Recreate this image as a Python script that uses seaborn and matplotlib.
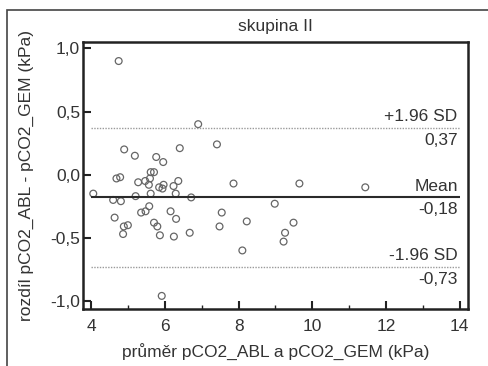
import numpy as np
import pandas as pd
import matplotlib
matplotlib.use('Agg')
import matplotlib.pyplot as plt
from matplotlib.patches import Rectangle
from matplotlib.ticker import MultipleLocator
import seaborn as sns

# Bland-Altman data (kPa)
prumer = [4.74, 6.90, 7.41, 4.89, 6.40, 5.18, 5.76, 5.95, 5.61, 5.70,
          4.68, 4.78, 5.27, 5.46, 5.59, 5.56, 5.84, 5.96, 5.93, 6.23,
          6.36, 7.86, 9.65, 11.44, 4.05, 5.61, 6.29, 5.20, 6.71, 4.59,
          4.80, 5.57, 8.98, 6.15, 5.47, 5.35, 7.54, 4.63, 6.30, 8.22,
          9.49, 5.70, 5.79, 4.99, 4.88, 7.48, 6.67, 9.26, 4.86, 5.86,
          6.24, 9.22, 8.10, 5.91]
rozdil = [0.90, 0.40, 0.24, 0.20, 0.21, 0.15, 0.14, 0.10, 0.02, 0.02,
          -0.03, -0.02, -0.06, -0.05, -0.03, -0.08, -0.10, -0.08, -0.11, -0.09,
          -0.05, -0.07, -0.07, -0.10, -0.15, -0.15, -0.15, -0.17, -0.18, -0.20,
          -0.21, -0.25, -0.23, -0.29, -0.29, -0.30, -0.30, -0.34, -0.35, -0.37,
          -0.38, -0.38, -0.41, -0.40, -0.41, -0.41, -0.46, -0.46, -0.47, -0.48,
          -0.49, -0.53, -0.60, -0.96]

mean_diff = -0.18
upper_loa = 0.37
lower_loa = -0.73
line_labels = ['+1.96 SD', 'Mean', '-1.96 SD']
line_values = ['0,37', '-0,18', '-0,73']

x_ticks = [4, 6, 8, 10, 12, 14]
y_ticks = [-1.0, -0.5, 0.0, 0.5, 1.0]
y_ticklabels = ['-1,0', '-0,5', '0,0', '0,5', '1,0']

sns.set_style('ticks')
plt.rcParams['font.family'] = ['Liberation Sans', 'DejaVu Sans']

text_col = '#333333'
fs = 12.5
df = pd.DataFrame({'prumer': prumer, 'rozdil': rozdil})

fig = plt.figure(figsize=(4.88, 3.66), dpi=100)
ax = fig.add_axes([0.170, 0.156, 0.789, 0.730])

sns.scatterplot(data=df, x='prumer', y='rozdil', ax=ax, marker='o', s=24,
                facecolor='none', edgecolor='#666666', linewidth=0.9)

# mean and limits of agreement
ax.hlines(mean_diff, 4, 14, color='#2a2a2a', linewidth=1.5, zorder=1)
ax.hlines([upper_loa, lower_loa], 4, 14, color='#9a9a9a', linewidth=1.0,
          linestyles=(0, (1, 1)), zorder=1)

for val, lab, txt in zip([upper_loa, mean_diff, lower_loa], line_labels, line_values):
    ax.text(13.95, val + 0.03, lab, ha='right', va='bottom', fontsize=fs, color=text_col)
    ax.text(13.95, val - 0.04, txt, ha='right', va='top', fontsize=fs, color=text_col)

ax.set_xlim(3.77, 14.23)
ax.set_ylim(-1.063, 1.053)
ax.set_xticks(x_ticks)
ax.xaxis.set_minor_locator(MultipleLocator(1))
ax.set_yticks(y_ticks)
ax.set_yticklabels(y_ticklabels)

ax.tick_params(axis='both', which='major', direction='in', length=6, width=1.5,
               colors='#222222', labelcolor=text_col, labelsize=fs)
ax.tick_params(axis='x', which='major', pad=7)
ax.tick_params(axis='y', which='major', pad=2)
ax.tick_params(axis='x', which='minor', direction='in', length=3, width=1.0, color='#222222')

for sp in ax.spines.values():
    sp.set_linewidth(1.8)
    sp.set_color('#222222')

ax.set_title('skupina II', fontsize=fs, color=text_col, pad=8)
ax.set_xlabel('průměr pCO2_ABL a pCO2_GEM (kPa)', fontsize=fs, color=text_col)
ax.set_ylabel('rozdíl pCO2_ABL - pCO2_GEM (kPa)', fontsize=fs, color=text_col)
ax.xaxis.label.set_va('center')
ax.yaxis.label.set_va('center')
ax.xaxis.set_label_coords(0.5, -0.162)
ax.yaxis.set_label_coords(-0.146, 0.5)

# outer frame of the figure (cut off at right and bottom)
fig.patches.append(Rectangle((7 / 488, -0.1), 1.2, 1 - 9.5 / 366 + 0.1,
                             transform=fig.transFigure, fill=False,
                             edgecolor='#444444', linewidth=1.2))

fig.savefig('out.png', dpi=100)
